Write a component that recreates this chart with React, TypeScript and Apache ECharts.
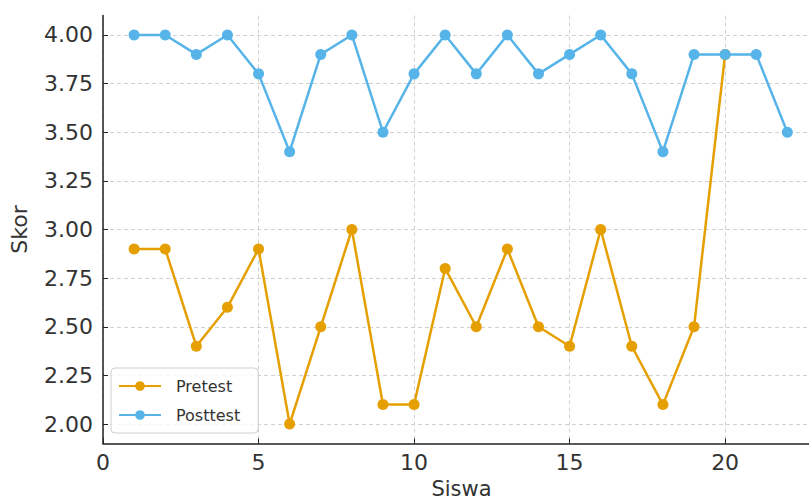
import React, { useEffect, useRef } from "react";
import * as echarts from "echarts";

const siswa = [1, 2, 3, 4, 5, 6, 7, 8, 9, 10, 11, 12, 13, 14, 15, 16, 17, 18, 19, 20, 21, 22];
const pretest = [2.9, 2.9, 2.4, 2.6, 2.9, 2.0, 2.5, 3.0, 2.1, 2.1, 2.8, 2.5, 2.9, 2.5, 2.4, 3.0, 2.4, 2.1, 2.5, 3.9];
const posttest = [4.0, 4.0, 3.9, 4.0, 3.8, 3.4, 3.9, 4.0, 3.5, 3.8, 4.0, 3.8, 4.0, 3.8, 3.9, 4.0, 3.8, 3.4, 3.9, 3.9, 3.9, 3.5];
const yTicks = [2.0, 2.25, 2.5, 2.75, 3.0, 3.25, 3.5, 3.75, 4.0];
const xTicks = [0, 5, 10, 15, 20];

export default function App() {
  const ref = useRef<HTMLDivElement>(null);
  useEffect(() => {
    if (!ref.current) return;
    const chart = echarts.init(ref.current, undefined, { renderer: "svg" });
    const font = "DejaVu Sans";
    chart.setOption({
      animation: false,
      textStyle: { fontFamily: font },
      grid: { left: 103, top: 15.5, bottom: 56.5, right: -11, outerBoundsMode: "none", containLabel: false },
      xAxis: {
        type: "value",
        min: 0,
        max: 23.05,
        name: "Siswa",
        nameLocation: "middle",
        nameGap: 26,
        nameTextStyle: { fontSize: 21, lineHeight: 22, color: "#333", fontFamily: font, verticalAlign: "top" },
        axisLine: { show: true, lineStyle: { color: "#222", width: 1.5 } },
        axisTick: { show: true, inside: true, length: 5, customValues: xTicks, lineStyle: { color: "#222" } },
        axisLabel: { customValues: xTicks, fontSize: 22, color: "#333", fontFamily: font, margin: 8, formatter: (v: number) => String(v) },
        splitLine: { show: true, lineStyle: { type: [4, 3], color: "#cccccc", width: 0.9 } },
      },
      yAxis: {
        type: "value",
        min: 1.9,
        max: 4.1,
        name: "Skor",
        nameLocation: "middle",
        nameGap: 73,
        nameTextStyle: { fontSize: 22, color: "#333", fontFamily: font },
        axisLine: { show: true, lineStyle: { color: "#222", width: 1.5 } },
        axisTick: { show: true, inside: true, length: 5, customValues: yTicks, lineStyle: { color: "#222" } },
        axisLabel: { customValues: yTicks, fontSize: 22, color: "#333", fontFamily: font, margin: 10, formatter: (v: number) => v.toFixed(2) },
        splitLine: { show: true, lineStyle: { type: [4, 3], color: "#cccccc", width: 0.9 } },
      },
      legend: {
        orient: "vertical",
        left: 111,
        top: 368,
        padding: [10, 18, 10, 7],
        itemWidth: 42,
        itemHeight: 12,
        itemGap: 13,
        borderColor: "#d0d0d0",
        borderWidth: 1,
        borderRadius: 4,
        backgroundColor: "rgba(255,255,255,0.8)",
        textStyle: { fontSize: 16, color: "#333", fontFamily: font, padding: [0, 0, 0, 10] },
        data: ["Pretest", "Posttest"],
      },
      series: [
        {
          name: "Pretest",
          type: "line",
          data: pretest.map((v, i) => [siswa[i], v]),
          symbol: "circle",
          symbolSize: 11,
          itemStyle: { color: "#E69F00" },
          lineStyle: { color: "#E69F00", width: 2.5 },
          z: 2,
        },
        {
          name: "Posttest",
          type: "line",
          data: posttest.map((v, i) => [siswa[i], v]),
          symbol: "circle",
          symbolSize: 11,
          itemStyle: { color: "#56B4E9" },
          lineStyle: { color: "#56B4E9", width: 2.5 },
          z: 3,
        },
      ],
    });
    return () => chart.dispose();
  }, []);
  return <div ref={ref} style={{ width: 809, height: 500, position: "absolute", left: 0, top: 0 }} />;
}
